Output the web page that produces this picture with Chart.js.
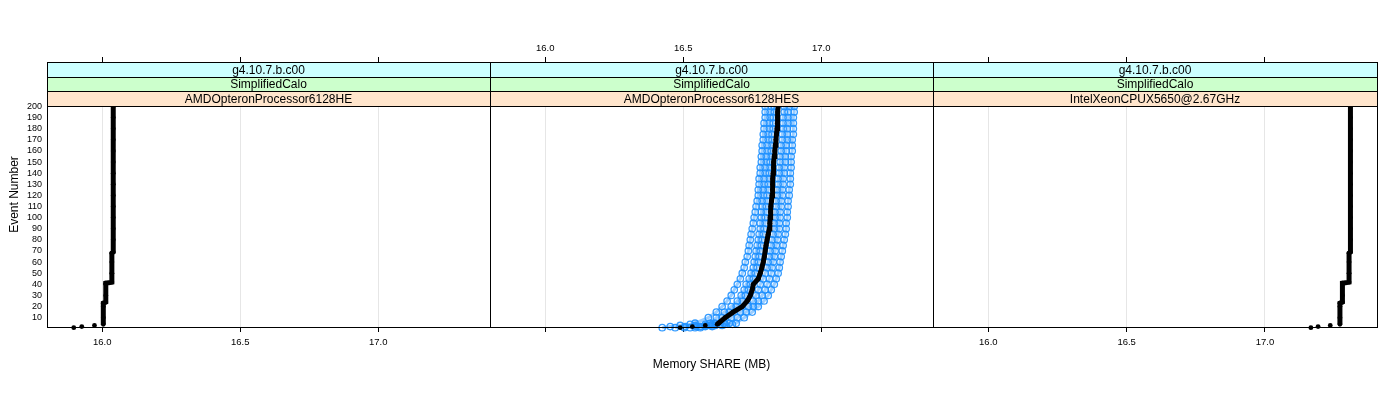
<!DOCTYPE html>
<html><head><meta charset="utf-8">
<script src="https://cdn.jsdelivr.net/npm/chart.js@4.4.1/dist/chart.umd.min.js"></script>
<style>
html,body{margin:0;padding:0;background:#fff;}
#wrap{position:relative;width:1400px;height:400px;background:#fff;}
#wrap canvas{position:absolute;left:0;top:0;}
</style></head><body>
<div id="wrap">
<canvas id="c1" width="1400" height="400"></canvas>
<canvas id="c2" width="1400" height="400"></canvas>
<canvas id="c3" width="1400" height="400"></canvas>
</div>
<script>
// ---------- data ----------
const EVENTS = [1,2,3,4,5,10,15,20,25,30,35,40,45,50,55,60,65,70,75,80,85,90,95,100,105,110,115,120,125,130,135,140,145,150,155,160,165,170,175,180,185,190,195,200];
const STEP_EVENTS = [1,2,3,4,10,20,23,24,30,40,41,42,50,60,68,69,80,90,100,110,120,130,140,150,160,170,180,190,200];

const HE_SHARE = [15.897,15.926,15.972,16.004,16.004,16.004,16.004,16.013,16.013,16.013,16.013,16.035,16.035,16.035,16.035,16.040,16.040,16.040,16.040,16.040,16.040,16.040,16.040,16.040,16.040,16.040,16.040,16.040,16.040];

const XEON_SHARE = [17.166,17.192,17.236,17.271,17.271,17.271,17.271,17.280,17.280,17.280,17.280,17.304,17.304,17.304,17.304,17.309,17.309,17.309,17.309,17.309,17.309,17.309,17.309,17.309,17.309,17.309,17.309,17.309,17.309];

const HES_REF = [16.489,16.533,16.580,16.623,16.628,16.652,16.681,16.714,16.732,16.743,16.750,16.754,16.772,16.779,16.785,16.790,16.794,16.797,16.800,16.804,16.808,16.812,16.814,16.815,16.816,16.818,16.820,16.822,16.823,16.824,16.825,16.826,16.827,16.828,16.830,16.832,16.834,16.836,16.838,16.840,16.841,16.842,16.843,16.844];

const HES_RUN_A = [16.424,16.453,16.489,16.525,16.543,16.591,16.620,16.641,16.659,16.674,16.685,16.696,16.707,16.714,16.721,16.725,16.732,16.736,16.739,16.743,16.746,16.750,16.754,16.757,16.761,16.764,16.768,16.772,16.772,16.775,16.775,16.779,16.779,16.783,16.783,16.786,16.786,16.790,16.790,16.793,16.793,16.797,16.797,16.797];
const HES_RUN_B = [16.471,16.507,16.543,16.580,16.598,16.620,16.649,16.674,16.696,16.710,16.721,16.728,16.739,16.746,16.754,16.757,16.761,16.764,16.768,16.772,16.775,16.779,16.779,16.783,16.783,16.786,16.786,16.790,16.790,16.793,16.793,16.797,16.797,16.801,16.801,16.804,16.804,16.808,16.808,16.812,16.812,16.815,16.815,16.819];
const HES_RUN_C = [16.504,16.547,16.583,16.605,16.616,16.641,16.667,16.692,16.714,16.725,16.736,16.743,16.754,16.761,16.768,16.772,16.775,16.779,16.783,16.786,16.790,16.793,16.797,16.797,16.801,16.801,16.804,16.804,16.808,16.808,16.812,16.812,16.815,16.815,16.819,16.819,16.822,16.822,16.822,16.826,16.826,16.826,16.830,16.830];
const HES_RUN_D = [16.525,16.562,16.598,16.634,16.649,16.674,16.707,16.736,16.754,16.764,16.772,16.779,16.790,16.797,16.804,16.808,16.812,16.815,16.819,16.822,16.826,16.830,16.830,16.833,16.833,16.837,16.837,16.841,16.841,16.844,16.844,16.848,16.848,16.851,16.851,16.855,16.855,16.859,16.859,16.862,16.862,16.862,16.866,16.866];
const HES_RUN_E = [16.543,16.580,16.616,16.652,16.667,16.696,16.728,16.754,16.772,16.786,16.797,16.804,16.812,16.819,16.822,16.826,16.830,16.833,16.837,16.841,16.844,16.848,16.848,16.851,16.851,16.855,16.855,16.859,16.859,16.862,16.862,16.866,16.866,16.870,16.870,16.873,16.873,16.877,16.877,16.877,16.880,16.880,16.880,16.884];
const HES_RUN_F = [16.562,16.605,16.641,16.678,16.692,16.721,16.750,16.772,16.793,16.808,16.819,16.830,16.837,16.844,16.848,16.851,16.855,16.859,16.862,16.866,16.870,16.873,16.873,16.877,16.877,16.880,16.880,16.884,16.884,16.888,16.888,16.888,16.891,16.891,16.891,16.895,16.895,16.895,16.899,16.899,16.899,16.899,16.902,16.902];

const X_TICKS = [16.0, 16.5, 17.0];
const Y_TICKS = [10,20,30,40,50,60,70,80,90,100,110,120,130,140,150,160,170,180,190,200];
const STRIP_VERSION = 'g4.10.7.b.c00';
const STRIP_TEST = 'SimplifiedCalo';
const CPUS = ['AMDOpteronProcessor6128HE','AMDOpteronProcessor6128HES','IntelXeonCPUX5650@2.67GHz'];
const X_TITLE = 'Memory SHARE (MB)';
const Y_TITLE = 'Event Number';

// ---------- style / layout ----------
const FONT = '"Liberation Sans", Arial, Helvetica, sans-serif';
Chart.defaults.font.family = FONT;
Chart.defaults.color = '#000';
const X_MIN = 15.80, X_MAX = 17.405;
const Y_MIN = 1.6, Y_MAX = 240, Y_LIM_TOP = 200;
const PANEL_TOP = 62, PANEL_BOTTOM = 327;
const PANELS = [[47, 490], [490, 933], [933, 1377]];
const STRIP_COLORS = ['#CCFFFF', '#CCFFCC', '#FFE5CC'];
const BLUE_PT = 'rgba(30,144,255,0.9)';
const BLUE_LN = 'rgba(30,144,255,0.45)';

function pts(vals, evs) { return vals.map((v, i) => ({x: v, y: evs[i]})); }

function blackSet(vals, evs) {
  return {data: pts(vals, evs), showLine: true, clip: false,
    borderColor: '#000', borderWidth: 5,
    pointRadius: 2.4, pointBackgroundColor: '#000', pointBorderColor: '#000', pointBorderWidth: 0,
    segment: {borderColor: c => c.p1DataIndex <= 3 ? 'rgba(0,0,0,0)' : '#000'}};
}
function blueSet(vals) {
  return {data: pts(vals, EVENTS), showLine: true, clip: false,
    borderColor: BLUE_LN, borderWidth: 3,
    pointRadius: 3.2, pointBackgroundColor: 'rgba(0,0,0,0)', pointBorderColor: BLUE_PT, pointBorderWidth: 1.3};
}

const stripPlugin = {
  id: 'strips',
  afterDatasetsDraw(chart, args, o) {
    const ctx = chart.ctx, a = chart.chartArea;
    const L = Math.round(a.left), R = Math.round(a.right);
    const top = Math.round(a.top);
    const bottom = Math.round(chart.scales.y.getPixelForValue(Y_LIM_TOP));
    const h = (bottom - top) / 3;
    ctx.save();
    ctx.font = '12px ' + FONT;
    ctx.textAlign = 'center';
    ctx.textBaseline = 'middle';
    for (let i = 0; i < 3; i++) {
      const y0 = Math.round(top + i * h), y1 = Math.round(top + (i + 1) * h);
      ctx.fillStyle = STRIP_COLORS[i];
      ctx.fillRect(L, y0, R - L, y1 - y0 + 1);
      ctx.strokeStyle = '#000'; ctx.lineWidth = 1;
      ctx.beginPath(); ctx.moveTo(L, y0 + 0.5); ctx.lineTo(R, y0 + 0.5); ctx.stroke();
      ctx.fillStyle = '#000';
      ctx.fillText(o.labels[i], (L + R) / 2, (y0 + y1) / 2 + 1);
    }
    ctx.beginPath(); ctx.moveTo(L, bottom + 0.5); ctx.lineTo(R, bottom + 0.5); ctx.stroke();
    ctx.strokeStyle = '#000';
    ctx.strokeRect(L + 0.5, top + 0.5, R - L, Math.round(a.bottom) - top);
    ctx.restore();
  }
};

function makeChart(id, p, cfg) {
  const [left, right] = PANELS[p];
  const xTickCb = v => Number(v).toFixed(1);
  return new Chart(document.getElementById(id), {
    type: 'scatter',
    data: {datasets: cfg.datasets},
    options: {
      responsive: false, animation: false, devicePixelRatio: 1, events: [],
      layout: {padding: {left: p === 0 ? 0 : left, right: 1400 - right, top: 0, bottom: 0}},
      plugins: {legend: {display: false}, tooltip: {enabled: false},
        strips: {labels: [STRIP_VERSION, STRIP_TEST, CPUS[p]]}},
      scales: {
        x: {type: 'linear', position: 'bottom', min: X_MIN, max: X_MAX,
          afterBuildTicks: s => { s.ticks = X_TICKS.map(v => ({value: v})); },
          afterFit: s => { s.height = 400 - PANEL_BOTTOM; },
          grid: {color: '#E6E6E6', lineWidth: 1, drawTicks: true, tickLength: 5, tickColor: '#000', tickWidth: 1},
          border: {display: false},
          ticks: {display: cfg.bottomLabels, color: '#000', font: {size: 9.5}, padding: 5, maxRotation: 0, autoSkip: false, callback: xTickCb},
          title: {display: !!cfg.xTitle, text: cfg.xTitle || '', color: '#000', font: {size: 12}, padding: {top: 0, bottom: 28}}
        },
        x2: {type: 'linear', position: 'top', display: true, min: X_MIN, max: X_MAX,
          afterBuildTicks: s => { s.ticks = X_TICKS.map(v => ({value: v})); },
          afterFit: s => { s.height = PANEL_TOP; },
          grid: {drawOnChartArea: false, drawTicks: true, tickLength: 5, tickColor: '#000', tickWidth: 1},
          border: {display: false},
          ticks: {display: cfg.topLabels, color: '#000', font: {size: 9.5}, padding: 3, maxRotation: 0, autoSkip: false, callback: xTickCb}
        },
        y: {type: 'linear', min: Y_MIN, max: Y_MAX, display: p === 0,
          afterBuildTicks: s => { s.ticks = Y_TICKS.map(v => ({value: v})); },
          afterFit: s => { if (p === 0) s.width = left; },
          grid: {drawOnChartArea: false, drawTicks: false},
          border: {display: false},
          ticks: {color: '#000', font: {size: 9}, padding: 5, autoSkip: false},
          title: {display: p === 0, text: Y_TITLE, color: '#000', font: {size: 12}, padding: {top: 7, bottom: 0}}
        }
      }
    },
    plugins: [stripPlugin]
  });
}

makeChart('c1', 0, {bottomLabels: true, topLabels: false, datasets: [blackSet(HE_SHARE, STEP_EVENTS)]});
makeChart('c2', 1, {bottomLabels: false, topLabels: true, xTitle: X_TITLE, datasets: [
  blackSet(HES_REF, EVENTS),
  blueSet(HES_RUN_A), blueSet(HES_RUN_B), blueSet(HES_RUN_C),
  blueSet(HES_RUN_D), blueSet(HES_RUN_E), blueSet(HES_RUN_F)]});
makeChart('c3', 2, {bottomLabels: true, topLabels: false, datasets: [blackSet(XEON_SHARE, STEP_EVENTS)]});
</script>
</body></html>
